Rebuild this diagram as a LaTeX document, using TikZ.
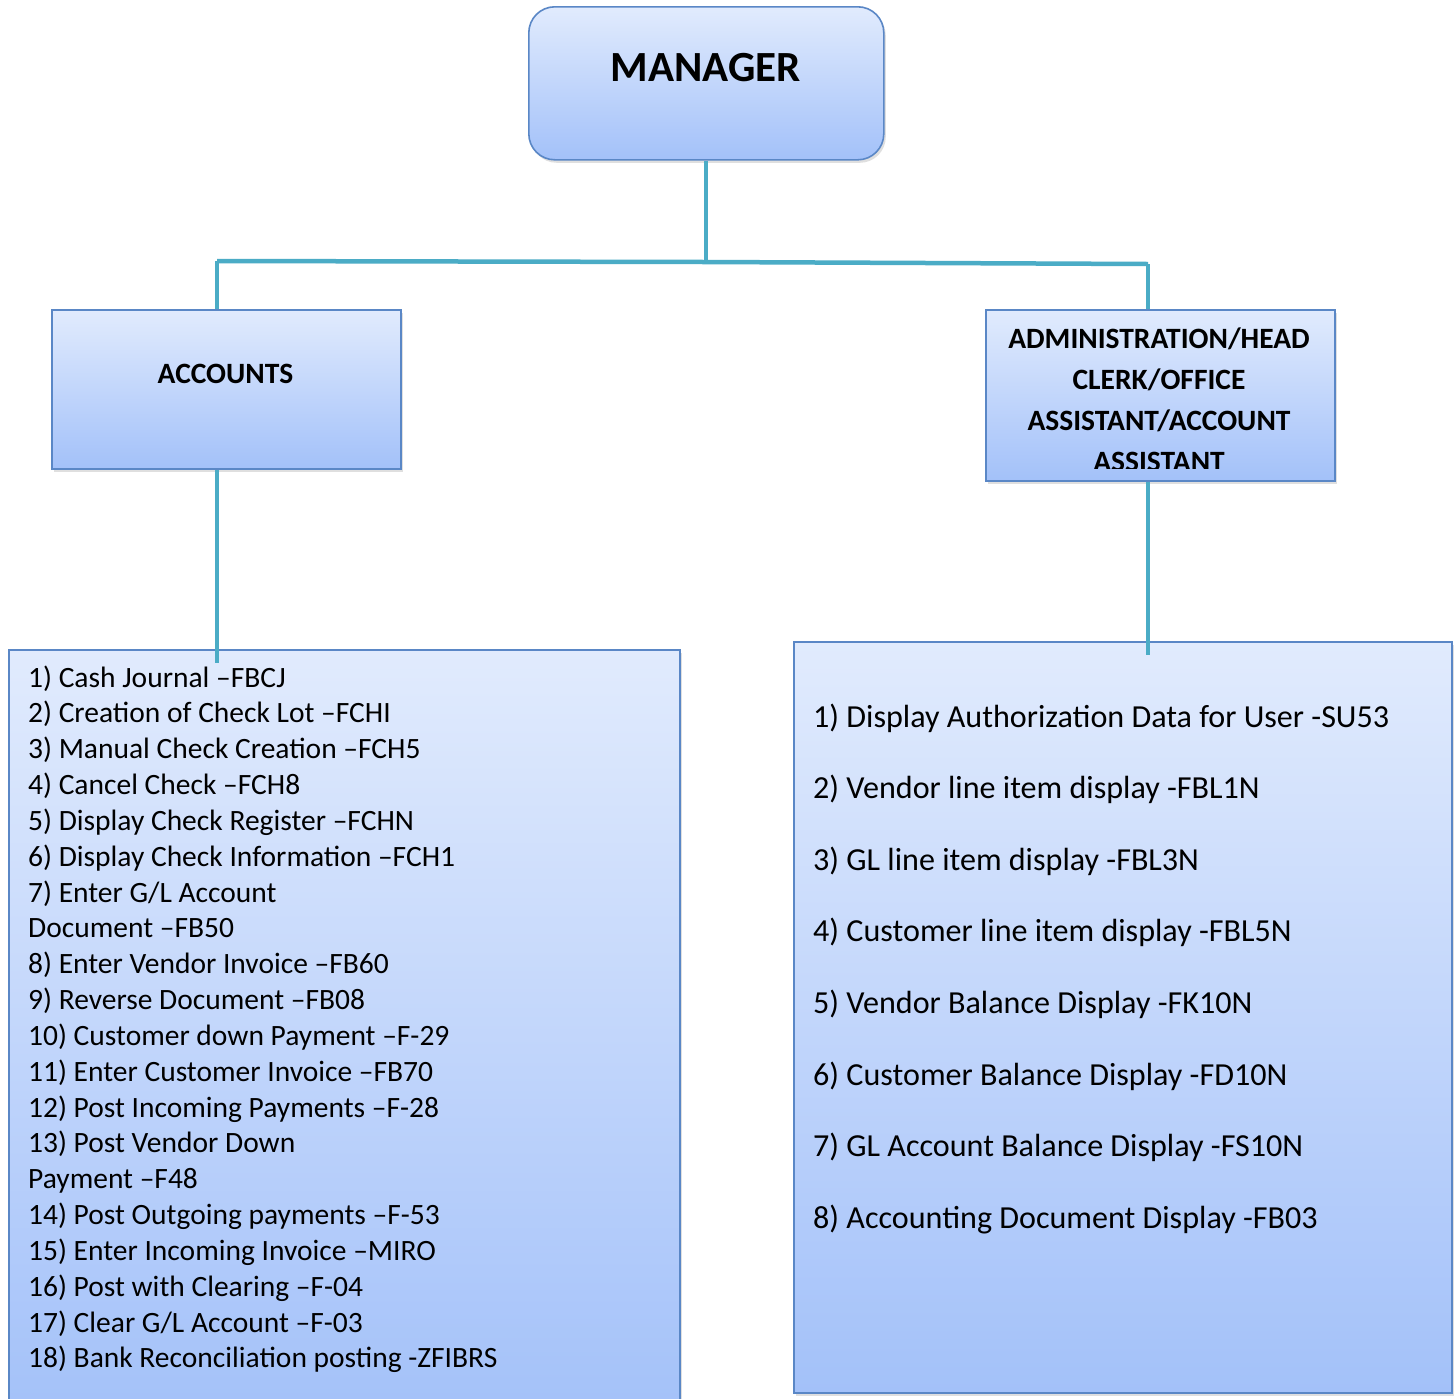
\documentclass[tikz,border=0pt]{standalone}
\usepackage{fontspec}
\setmainfont{Carlito}
\usetikzlibrary{shadows}
\definecolor{boxtop}{HTML}{E1EBFD}
\definecolor{boxbot}{HTML}{A3C1F9}
\definecolor{boxline}{HTML}{5A87C6}
\definecolor{conn}{HTML}{4BACC6}
\tikzset{
  box/.style={draw=boxline, line width=1.6pt, top color=boxtop, bottom color=boxbot,
    inner sep=0pt, anchor=north west,
    drop shadow={opacity=0.25, shadow xshift=2pt, shadow yshift=-3pt}},
  conline/.style={draw=conn, line width=4.5pt},
  lefttxt/.style={anchor=base west, inner sep=0pt, font=\fontsize{29.5}{35}\selectfont},
  righttxt/.style={anchor=base west, inner sep=0pt, font=\fontsize{32.1}{38}\selectfont},
  headtxt/.style={anchor=base, inner sep=0pt, font=\bfseries\fontsize{29.5}{34}\selectfont},
}
\begin{document}
\begin{tikzpicture}[x=1pt,y=-1pt]
\useasboundingbox[fill=white] (0,0) rectangle (1455,1398);

% boxes
\node[box, rounded corners=26pt, minimum width=355pt, minimum height=153pt] (mgr) at (528,6) {};
\node[box, minimum width=349pt, minimum height=159pt] (acc) at (51,309) {};
\node[box, minimum width=349pt, minimum height=171pt] (adm) at (985,309) {};
\node[box, minimum width=671pt, minimum height=770pt] (accl) at (8,649) {};
\node[box, minimum width=658pt, minimum height=751pt] (adml) at (793,641) {};

% headings
\node[anchor=base, inner sep=0pt, font=\bfseries\fontsize{43}{50}\selectfont] (mgrt) at (706,81) {MANAGER};
\node[headtxt] (acct) at (225.5,383) {ACCOUNTS};
\begin{scope}
\clip (986,310) rectangle (1333,468);
\node[headtxt] (adm1) at (1159,348) {ADMINISTRATION/HEAD};
\node[headtxt] (adm2) at (1159,389) {CLERK/OFFICE};
\node[headtxt] (adm3) at (1159,430) {ASSISTANT/ACCOUNT};
\node[headtxt] (adm4) at (1159,471) {ASSISTANT};
\end{scope}

% left list
\foreach \t [count=\i] in {
 {1) Cash Journal –FBCJ},
 {2) Creation of Check Lot –FCHI},
 {3) Manual Check Creation –FCH5},
 {4) Cancel Check –FCH8},
 {5) Display Check Register –FCHN},
 {6) Display Check Information –FCH1},
 {7) Enter G/L Account},
 {Document –FB50},
 {8) Enter Vendor Invoice –FB60},
 {9) Reverse Document –FB08},
 {10) Customer down Payment –F-29},
 {11) Enter Customer Invoice –FB70},
 {12) Post Incoming Payments –F-28},
 {13) Post Vendor Down},
 {Payment –F48},
 {14) Post Outgoing payments –F-53},
 {15) Enter Incoming Invoice –MIRO},
 {16) Post with Clearing –F-04},
 {17) Clear G/L Account –F-03},
 {18) Bank Reconciliation posting -ZFIBRS}}
{\node[lefttxt] (l\i) at (28,{687+(\i-1)*35.84}) {\t};}

% right list
\foreach \t [count=\i] in {
 {1) Display Authorization Data for User -SU53},
 {2) Vendor line item display -FBL1N},
 {3) GL line item display -FBL3N},
 {4) Customer line item display -FBL5N},
 {5) Vendor Balance Display -FK10N},
 {6) Customer Balance Display -FD10N},
 {7) GL Account Balance Display -FS10N},
 {8) Accounting Document Display -FB03}}
{\node[righttxt] (r\i) at (813,{727+(\i-1)*71.6}) {\t};}

% connectors
\coordinate (jL) at (217,261);
\coordinate (jM) at (706,262);
\coordinate (jR) at (1148,264);
\coordinate (eL) at (217,663);
\coordinate (eR) at (1148,655);
\draw[conline] (mgr.south -| jM) -- (jM);
\draw[conline] (jL) -- (jM) -- (jR);
\draw[conline] (jL) -- (acc.north -| jL);
\draw[conline] (jR) -- (adm.north -| jR);
\draw[conline] (acc.south -| eL) -- (eL);
\draw[conline] (adm.south -| eR) -- (eR);
\end{tikzpicture}
\end{document}
